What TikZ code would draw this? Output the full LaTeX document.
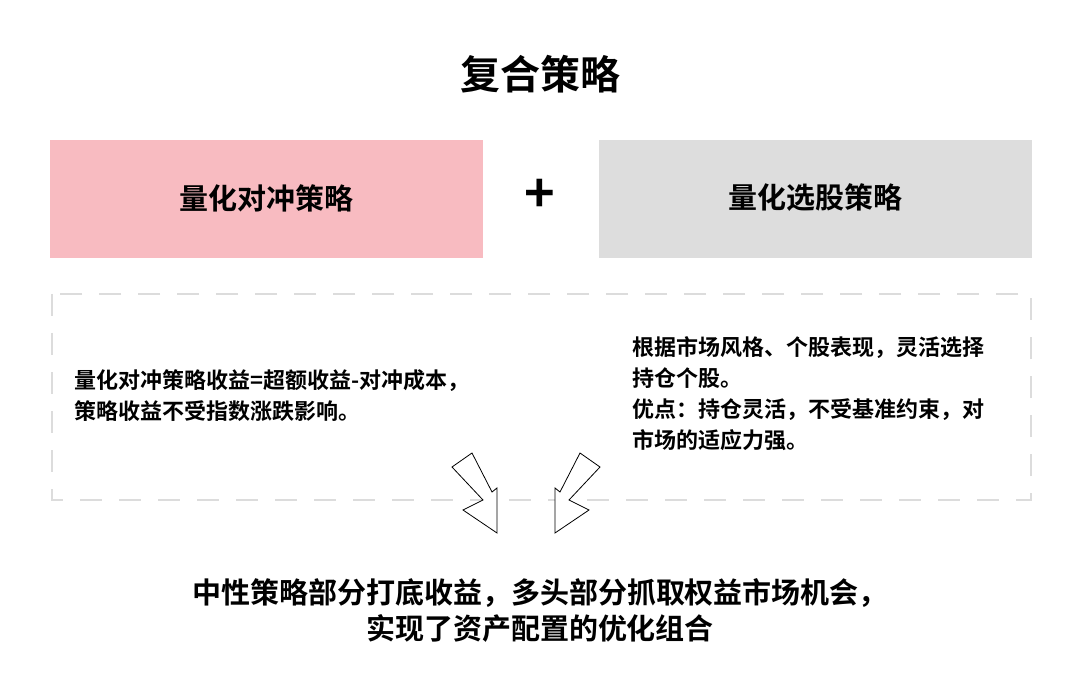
\documentclass[tikz,border=0pt]{standalone}
\usepackage{fontspec}
\setmainfont{Noto Sans CJK SC Bold}
\begin{document}
\begin{tikzpicture}[x=1pt,y=-1pt,
  txt/.style={inner sep=0pt,align=left,font=\fontsize{22}{31}\selectfont},
  hd/.style={inner sep=0pt,font=\fontsize{29}{32}\selectfont},
  arr/.style={draw=black,line width=0.8pt,fill=white,line join=miter}]
\useasboundingbox (0,0) rectangle (1080,695);
\node[inner sep=0pt,font=\fontsize{40}{44}\selectfont] (t) at (540,74) {复合策略};
\fill[fill={rgb,255:red,248;green,187;blue,193}] (50,140) rectangle (483,258);
\node[hd] (a) at (266,198) {量化对冲策略};
\fill[fill={rgb,255:red,221;green,221;blue,221}] (599,140) rectangle (1032,258);
\node[hd] (b) at (815,198) {量化选股策略};
\node[inner sep=0pt,font=\fontsize{52}{52}\selectfont] (p) at (540,196) {+};
\draw[draw={rgb,255:red,220;green,220;blue,220},line width=2pt,dash pattern=on 22pt off 17pt] (52,294) rectangle (1031,500);
\node[txt,anchor=west] (l) at (74,396) {量化对冲策略收益=超额收益-对冲成本，\\策略收益不受指数涨跌影响。};
\node[txt,anchor=west] (r) at (632,394) {根据市场风格、个股表现，灵活选择\\持仓个股。\\优点：持仓灵活，不受基准约束，对\\市场的适应力强。};
\draw[arr] (452,467) -- (472,453) -- (492,492) -- (497,488) -- (497,533) -- (463,510) -- (483,500) -- cycle;
\draw[arr] (600,467) -- (580,453) -- (560,492) -- (555,488) -- (555,533) -- (589,510) -- (569,500) -- cycle;
\node[inner sep=0pt,align=center,font=\fontsize{29}{36}\selectfont] (c) at (540,610) {中性策略部分打底收益，多头部分抓取权益市场机会，\\实现了资产配置的优化组合};
\end{tikzpicture}
\end{document}
